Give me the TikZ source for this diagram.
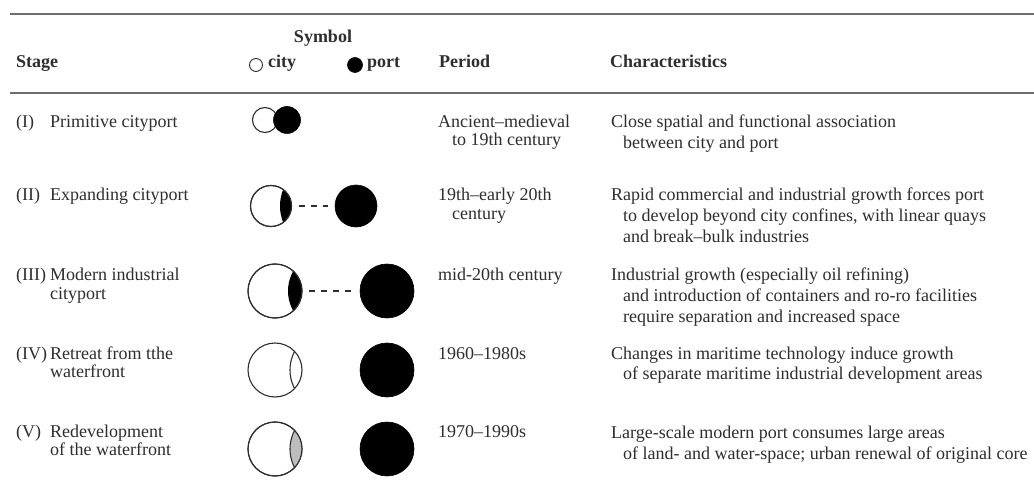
\documentclass[tikz,border=0pt]{standalone}
\usepackage{fontspec}
\setmainfont{Liberation Serif}
\definecolor{ink}{HTML}{2E2E2E}
\definecolor{rulegray}{HTML}{6E6E6E}
\definecolor{lensgray}{HTML}{BDBDBD}
\begin{document}
\begin{tikzpicture}[x=1pt,y=-1pt,
  txt/.style={inner sep=0pt, anchor=mid west, text=ink, font=\fontsize{18}{18}\selectfont},
  hdr/.style={txt, font=\fontsize{18}{18}\selectfont\bfseries},
  rulestyle/.style={draw=rulegray, line width=1.8pt},
  city/.style={circle, draw=ink, line width=1.1pt, fill=white, inner sep=0pt, outer sep=0pt},
  port/.style={circle, fill=black, draw=black, line width=0.6pt, inner sep=0pt, outer sep=0pt},
  link/.style={draw=ink, line width=1.4pt, dash pattern=on 6pt off 6pt, shorten <=7pt, shorten >=7pt}]
\useasboundingbox (0,0) rectangle (1034,489);
\fill[white] (0,0) rectangle (1034,489);
% rules
\coordinate (r1a) at (10,14); \coordinate (r1b) at (1034,14);
\coordinate (r2a) at (10,93); \coordinate (r2b) at (1034,93);
\draw[rulestyle] (r1a) -- (r1b);
\draw[rulestyle] (r2a) -- (r2b);
% header
\node[hdr, anchor=mid] (hsym) at (323,40) {Symbol};
\node[hdr] (hstage) at (16,65) {Stage};
\node[city, minimum size=13pt, line width=0.9pt] (lcity) at (256,65) {};
\node[hdr] (hcity) at (268,65) {city};
\node[port, minimum size=15pt] (lport) at (355,65) {};
\node[hdr] (hport) at (367,65) {port};
\node[hdr] (hper) at (439,65) {Period};
\node[hdr] (hchar) at (610,65) {Characteristics};
% stage column
\node[txt] (s1n) at (16,125) {(I)};
\node[txt] (s1a) at (50,125) {Primitive cityport};
\node[txt] (s2n) at (16,198) {(II)};
\node[txt] (s2a) at (50,198) {Expanding cityport};
\node[txt] (s3n) at (16,278) {(III)};
\node[txt] (s3a) at (50,278) {Modern industrial};
\node[txt] (s3b) at (50,297) {cityport};
\node[txt] (s4n) at (16,357) {(IV)};
\node[txt] (s4a) at (50,357) {Retreat from tthe};
\node[txt] (s4b) at (50,375) {waterfront};
\node[txt] (s5n) at (16,435) {(V)};
\node[txt] (s5a) at (50,435) {Redevelopment};
\node[txt] (s5b) at (50,453) {of the waterfront};
% period column
\node[txt] (p1a) at (438,125) {Ancient–medieval};
\node[txt] (p1b) at (452,143) {to 19th century};
\node[txt] (p2a) at (438,198) {19th–early 20th};
\node[txt] (p2b) at (452,217) {century};
\node[txt] (p3a) at (438,278) {mid-20th century};
\node[txt] (p4a) at (438,357) {1960–1980s};
\node[txt] (p5a) at (438,435) {1970–1990s};
% characteristics column
\node[txt] (c1a) at (611,125) {Close spatial and functional association};
\node[txt] (c1b) at (623,146) {between city and port};
\node[txt] (c2a) at (611,198) {Rapid commercial and industrial growth forces port};
\node[txt] (c2b) at (623,219) {to develop beyond city confines, with linear quays};
\node[txt] (c2c) at (623,240) {and break–bulk industries};
\node[txt] (c3a) at (611,278) {Industrial growth (especially oil refining)};
\node[txt] (c3b) at (623,299) {and introduction of containers and ro-ro facilities};
\node[txt] (c3c) at (623,320) {require separation and increased space};
\node[txt] (c4a) at (611,357) {Changes in maritime technology induce growth};
\node[txt] (c4b) at (623,377) {of separate maritime industrial development areas};
\node[txt] (c5a) at (611,436) {Large-scale modern port consumes large areas};
\node[txt] (c5b) at (623,457) {of land- and water-space; urban renewal of original core};
% symbols row I
\node[city, minimum size=25pt] (ci1) at (265,120) {};
\node[port, minimum size=27pt] (po1) at (287,120) {};
% row II
\node[city, minimum size=41pt] (ci2) at (271,206) {};
\begin{scope}
  \clip (271,206) circle (20.5);
  \fill[black] (324,206) circle (44);
\end{scope}
\draw[ink, line width=1.1pt] (271,206) circle (20.5);
\node[port, minimum size=42pt] (po2) at (356,206) {};
\draw[link] (ci2) -- (po2);
% row III
\node[city, minimum size=54pt] (ci3) at (275,291) {};
\begin{scope}
  \clip (275,291) circle (27);
  \fill[black] (328,291) circle (40);
\end{scope}
\draw[ink, line width=1.1pt] (275,291) circle (27);
\node[port, minimum size=54pt] (po3) at (387,291) {};
\draw[link] (ci3) -- (po3);
% row IV
\node[city, minimum size=54pt] (ci4) at (275,370) {};
\begin{scope}
  \clip (275,370) circle (27);
  \draw[ink, line width=1.1pt] (330,370) circle (40);
\end{scope}
\node[port, minimum size=54pt] (po4) at (387,370) {};
% row V
\node[city, minimum size=54pt] (ci5) at (275,449) {};
\begin{scope}
  \clip (275,449) circle (27);
  \draw[ink, line width=1.1pt, fill=lensgray] (330,449) circle (40);
\end{scope}
\draw[ink, line width=1.1pt] (275,449) circle (27);
\node[port, minimum size=54pt] (po5) at (387,449) {};
\end{tikzpicture}
\end{document}
